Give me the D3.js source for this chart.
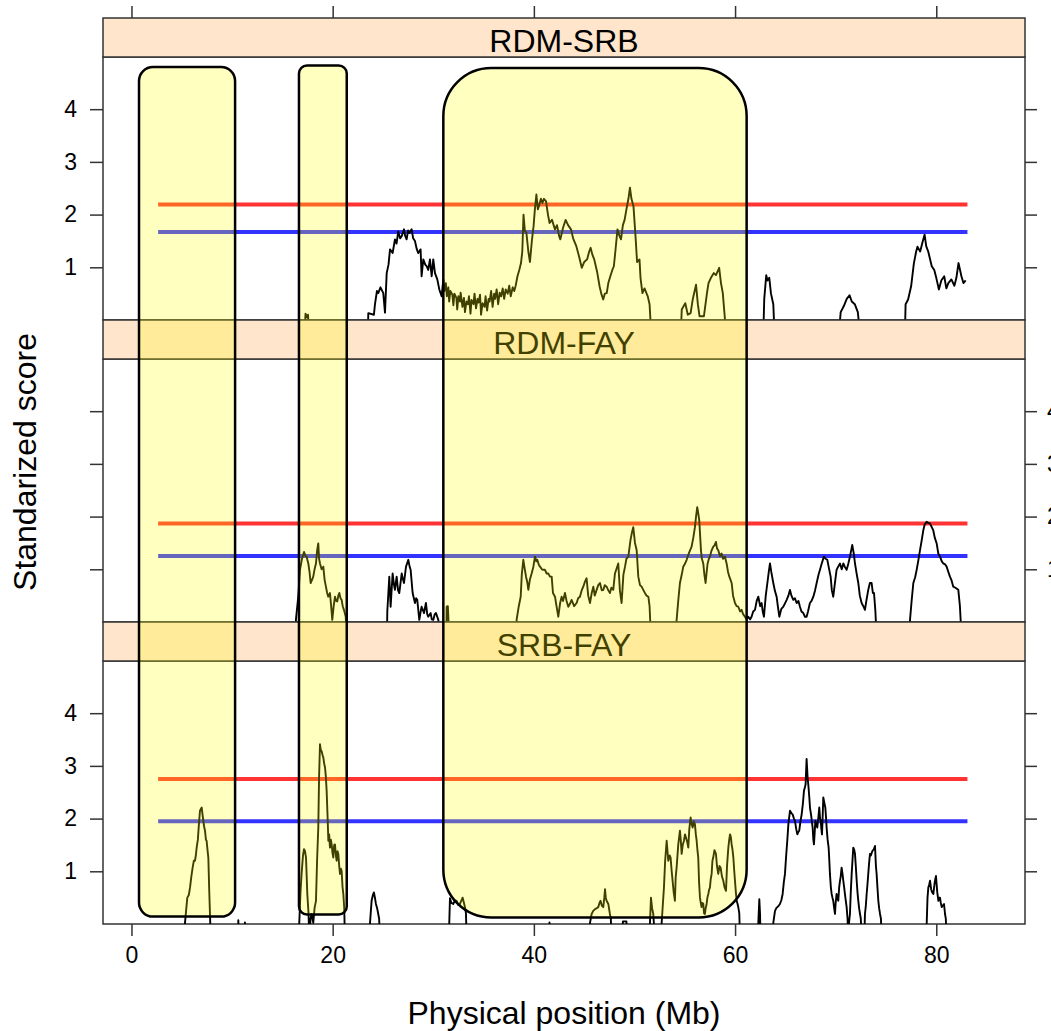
<!DOCTYPE html>
<html>
<head>
<meta charset="utf-8">
<script src="https://cdn.jsdelivr.net/npm/d3@7"></script>
<style>
  body { margin: 0; background: #fff; }
  svg { display: block; font-family: "Liberation Sans", Arial, sans-serif; }
</style>
</head>
<body>
<svg></svg>
<script>
var width = 1051;
var height = 1031;

// ---- data ----
var panelNames = ["RDM-SRB", "RDM-FAY", "SRB-FAY"];
var xTicks = [0, 20, 40, 60, 80];
var yTicks = [1, 2, 3, 4];
var redLevels = [2.19, 1.87, 2.75];
var blueLevels = [1.67, 1.25, 1.95];
var levelSpan = [2.65, 83.1];

// highlighted regions (Mb), top is a score in the top panel, bottom a score in the bottom panel
var regionStart = [0.75, 16.65, 31.0];
var regionEnd = [10.3, 21.4, 61.15];
var regionTop = [4.8, 4.83, 4.78];
var regionBottom = [0.14, 0.18, 0.125];

// [position Mb, standardized score]; negative = below the panel floor
var scanRdmSrb = [
  [17.2,-0.3],[17.3,0.12],[17.45,0.05],[17.55,0.1],[17.65,-0.3],
  [23.5,-0.3],[23.54,0.13],[24.1,0.1],[24.2,0.29],[24.4,0.55],[24.53,0.51],[24.75,0.62],[25.03,0.51],[25.2,0.14],[25.37,0.89],[25.55,1.05],[25.7,1.34],[25.96,1.27],[26.19,1.53],[26.35,1.45],[26.52,1.68],[26.7,1.55],[26.86,1.59],[27.09,1.72],[27.2,1.6],[27.35,1.53],[27.5,1.7],[27.62,1.65],[27.85,1.72],[28.0,1.55],[28.18,1.5],[28.35,1.35],[28.51,1.27],[28.74,1.34],[28.84,0.83],[29.01,1.15],[29.2,1.05],[29.34,1.02],[29.5,0.95],[29.67,1.15],[29.84,0.83],[30.0,1.15],[30.17,0.89],[30.4,0.77],[30.6,0.58],[30.83,0.45],
  [31.0,0.77],[31.1,0.55],[31.25,0.7],[31.35,0.45],[31.5,0.62],[31.58,0.35],[31.7,0.55],[31.9,0.48],[32.0,0.28],[32.1,0.5],[32.3,0.42],[32.38,0.2],[32.5,0.45],[32.65,0.35],[32.72,0.52],[32.9,0.25],[33.05,0.42],[33.15,0.15],[33.3,0.35],[33.45,0.3],[33.55,0.45],[33.7,0.12],[33.8,0.38],[34.0,0.3],[34.1,0.5],[34.25,0.22],[34.4,0.4],[34.5,0.33],[34.65,0.48],[34.75,0.1],[34.9,0.32],[35.1,0.25],[35.2,0.45],[35.35,0.18],[35.5,0.4],[35.6,0.35],[35.75,0.55],[35.9,0.25],[36.05,0.5],[36.15,0.4],[36.3,0.58],[36.45,0.3],[36.6,0.52],[36.75,0.45],[36.9,0.6],[37.05,0.4],[37.2,0.58],[37.4,0.5],[37.55,0.65],[37.7,0.45],[37.9,0.62],[38.05,0.55],[38.2,0.66],[38.37,0.83],[38.55,0.95],[38.72,1.08],[38.85,1.3],[38.97,2.0],[39.1,1.7],[39.26,1.65],[39.45,1.3],[39.61,1.1],[39.8,1.5],[39.97,1.78],[40.1,2.1],[40.25,2.38],[40.4,2.1],[40.5,2.16],[40.7,2.3],[40.85,2.22],[41.0,2.3],[41.21,2.25],[41.4,2.0],[41.56,1.84],[41.8,1.9],[42.1,1.72],[42.3,1.8],[42.5,1.6],[42.63,1.53],[42.9,1.75],[43.16,1.9],[43.4,1.8],[43.69,1.72],[43.9,1.55],[44.22,1.4],[44.5,1.2],[44.76,0.99],[45.0,1.1],[45.29,1.15],[45.5,1.3],[45.64,1.37],[45.8,1.25],[46.0,1.15],[46.3,0.9],[46.53,0.64],[46.7,0.5],[46.89,0.39],[47.05,0.5],[47.24,0.51],[47.4,0.7],[47.6,0.83],[47.8,0.95],[47.95,1.02],[48.1,1.3],[48.31,1.72],[48.5,1.6],[48.66,1.53],[48.85,1.8],[49.02,1.9],[49.2,2.1],[49.4,2.3],[49.55,2.51],[49.7,2.3],[49.9,2.16],[50.1,1.6],[50.26,1.1],[50.5,1.15],[50.6,0.8],[50.79,0.51],[51.0,0.6],[51.32,0.45],[51.5,0.3],[51.68,-0.3],
  [54.6,-0.3],[54.7,0.2],[55.05,0.32],[55.3,0.1],[55.58,0.13],[55.8,0.4],[56.12,0.67],[56.3,0.3],[56.47,0.07],[56.9,0.07],[57.2,0.5],[57.36,0.7],[57.6,0.8],[57.89,0.89],[58.1,0.85],[58.42,0.99],[58.6,0.7],[58.78,0.51],[59.13,-0.3],
  [62.8,-0.3],[62.9,0.4],[63.1,0.85],[63.22,0.75],[63.4,0.8],[63.57,0.5],[63.8,0.3],[63.93,-0.3],
  [70.3,-0.3],[70.5,0.15],[70.8,0.26],[71.1,0.4],[71.38,0.47],[71.6,0.35],[71.9,0.3],[72.2,0.15],[72.45,-0.3],
  [76.88,-0.3],[76.95,0.3],[77.2,0.39],[77.5,0.64],[77.77,1.07],[78.0,1.3],[78.13,1.39],[78.4,1.3],[78.6,1.45],[78.84,1.62],[79.0,1.4],[79.2,1.3],[79.55,1.02],[79.8,0.95],[80.0,0.8],[80.26,0.58],[80.5,0.75],[80.79,0.83],[81.0,0.6],[81.2,0.7],[81.5,0.77],[81.8,0.65],[82.0,0.8],[82.21,1.08],[82.5,0.83],[82.7,0.7],[82.92,0.75]
];

var scanRdmFay = [
  [16.3,-0.3],[16.35,0.05],[16.58,0.48],[16.75,0.99],[16.95,1.2],[17.15,1.33],[17.3,1.25],[17.41,1.24],[17.58,1.11],[17.7,0.95],[17.81,0.74],[17.95,0.8],[18.07,0.86],[18.2,1.0],[18.34,1.11],[18.45,1.35],[18.57,1.49],[18.65,1.2],[18.74,1.11],[18.9,1.0],[19.07,1.05],[19.2,0.8],[19.33,0.67],[19.45,0.55],[19.56,0.48],[19.73,0.55],[19.85,0.3],[19.96,0.04],[20.1,0.3],[20.23,0.48],[20.35,0.4],[20.46,0.39],[20.56,0.5],[20.66,0.55],[20.78,0.45],[20.89,0.42],[21.0,0.3],[21.12,0.23],[21.3,0.1],[21.39,-0.3],
  [25.4,-0.3],[25.43,0.2],[25.63,0.86],[25.76,0.29],[25.96,0.92],[26.1,0.7],[26.19,0.61],[26.36,0.86],[26.5,0.6],[26.62,0.55],[26.86,0.92],[27.0,0.8],[27.09,0.74],[27.29,1.05],[27.52,1.18],[27.65,1.05],[27.75,0.99],[27.95,0.55],[28.18,0.36],[28.3,0.45],[28.41,0.42],[28.61,0.04],[28.75,0.2],[28.84,0.29],[29.08,0.17],[29.27,0.36],[29.4,0.15],[29.5,0.1],[29.74,0.17],[29.85,0.05],[30.0,0.04],[30.15,0.15],[30.27,0.17],[30.5,0.04],[30.73,-0.3],
  [31.3,-0.3],[31.33,0.29],[31.45,0.3],[31.59,-0.3],
  [38.25,-0.3],[38.29,0.05],[38.5,0.3],[38.69,0.48],[38.8,0.9],[38.95,1.18],[39.1,1.0],[39.22,0.86],[39.35,0.75],[39.45,0.61],[39.6,0.8],[39.78,0.92],[39.95,1.05],[40.11,1.24],[40.25,1.15],[40.34,1.18],[40.5,1.08],[40.61,1.05],[40.8,1.0],[40.93,0.99],[41.1,0.99],[41.27,0.92],[41.43,0.92],[41.6,0.86],[41.77,0.86],[41.9,0.55],[42.1,0.48],[42.25,0.3],[42.43,0.1],[42.6,0.35],[42.76,0.48],[42.9,0.4],[43.09,0.55],[43.25,0.4],[43.42,0.29],[43.6,0.35],[43.75,0.42],[44.0,0.3],[44.25,0.36],[44.4,0.45],[44.58,0.48],[44.75,0.6],[44.91,0.67],[45.05,0.75],[45.24,0.83],[45.4,0.5],[45.58,0.36],[45.75,0.55],[45.91,0.67],[46.05,0.5],[46.24,0.61],[46.4,0.7],[46.57,0.74],[46.75,0.6],[46.9,0.61],[47.05,0.7],[47.23,0.67],[47.4,0.6],[47.56,0.55],[47.7,0.65],[47.89,0.61],[48.06,0.92],[48.2,1.0],[48.39,1.11],[48.55,0.6],[48.72,0.36],[48.9,0.9],[49.06,1.05],[49.2,1.2],[49.39,1.24],[49.6,1.55],[49.75,1.7],[49.88,1.8],[50.05,1.5],[50.22,1.36],[50.38,0.86],[50.55,0.7],[50.71,0.67],[50.9,0.6],[51.04,0.55],[51.2,0.5],[51.38,0.48],[51.5,0.3],[51.64,-0.3],
  [54.15,-0.3],[54.19,0.04],[54.35,0.4],[54.52,0.74],[54.7,0.9],[54.85,1.05],[55.0,1.1],[55.19,1.18],[55.4,1.3],[55.68,1.43],[55.85,1.6],[56.01,1.8],[56.12,2.0],[56.24,2.18],[56.35,2.05],[56.44,1.93],[56.61,1.36],[56.7,1.2],[56.84,1.11],[56.95,0.9],[57.07,0.74],[57.15,0.9],[57.27,1.11],[57.4,1.2],[57.5,1.24],[57.65,1.35],[57.83,1.43],[57.95,1.45],[58.1,1.52],[58.2,1.4],[58.33,1.36],[58.5,1.25],[58.66,1.3],[58.8,1.2],[58.99,1.24],[59.16,1.11],[59.3,0.95],[59.43,0.86],[59.55,0.8],[59.66,0.74],[59.8,0.5],[59.99,0.36],[60.15,0.3],[60.32,0.29],[60.5,0.2],[60.65,0.23],[60.8,0.15],[60.98,0.1],[61.15,0.05],[61.31,0.1],[61.5,0.05],[61.64,0.1],[61.8,0.2],[61.98,0.23],[62.15,0.4],[62.31,0.48],[62.5,0.3],[62.64,0.36],[62.75,0.2],[62.87,0.1],[63.05,0.5],[63.21,0.74],[63.35,0.95],[63.47,1.11],[63.6,0.95],[63.8,0.74],[63.95,0.6],[64.13,0.48],[64.25,0.3],[64.4,0.1],[64.6,0.25],[64.8,0.29],[64.95,0.35],[65.13,0.42],[65.3,0.5],[65.46,0.61],[65.6,0.5],[65.79,0.42],[65.95,0.45],[66.12,0.36],[66.3,0.4],[66.45,0.29],[66.6,0.2],[66.78,0.17],[66.95,0.1],[67.11,0.1],[67.25,0.2],[67.44,0.36],[67.6,0.4],[67.78,0.48],[67.95,0.6],[68.11,0.74],[68.3,0.9],[68.44,0.99],[68.6,1.1],[68.83,1.24],[69.0,1.2],[69.17,1.18],[69.3,1.05],[69.5,0.86],[69.62,0.6],[69.76,0.48],[69.9,0.7],[70.09,0.99],[70.25,1.05],[70.43,1.11],[70.6,1.0],[70.76,1.11],[70.9,1.05],[71.09,0.99],[71.25,1.1],[71.42,1.24],[71.65,1.46],[71.8,1.3],[71.92,1.11],[72.1,0.9],[72.25,0.74],[72.4,0.5],[72.58,0.36],[72.75,0.3],[72.91,0.23],[73.05,0.4],[73.24,0.61],[73.4,0.74],[73.57,0.74],[73.7,0.55],[73.81,0.55],[73.95,0.2],[74.07,-0.3],
  [77.35,-0.3],[77.39,0.04],[77.55,0.4],[77.72,0.74],[77.9,0.85],[78.05,0.99],[78.2,1.15],[78.38,1.36],[78.55,1.55],[78.71,1.74],[78.85,1.85],[79.04,1.9],[79.2,1.88],[79.37,1.87],[79.55,1.8],[79.7,1.74],[79.85,1.6],[80.04,1.49],[80.2,1.3],[80.37,1.24],[80.55,1.15],[80.7,1.11],[80.85,1.1],[81.03,1.05],[81.2,0.95],[81.36,0.86],[81.5,0.8],[81.69,0.67],[81.9,0.65],[82.19,0.61],[82.35,0.3],[82.52,-0.3]
];

var scanSrbFay = [
  [5.3,-0.3],[5.32,0.02],[5.55,0.5],[5.7,0.55],[5.82,0.69],[5.95,0.9],[6.08,1.07],[6.2,1.2],[6.31,1.2],[6.4,1.3],[6.48,1.45],[6.6,1.6],[6.68,1.83],[6.81,2.15],[6.98,2.21],[7.05,2.1],[7.14,1.96],[7.22,1.85],[7.31,1.77],[7.4,1.6],[7.47,1.58],[7.56,1.4],[7.64,1.26],[7.74,0.57],[7.82,0.1],[7.87,-0.3],
  [10.6,-0.3],[10.62,0.07],[10.7,-0.3],[11.2,-0.3],[11.28,0.03],[11.35,-0.3],
  [16.65,-0.3],[16.68,0.02],[16.8,0.6],[16.91,0.95],[17.05,1.3],[17.15,1.42],[17.25,1.38],[17.35,1.26],[17.48,0.57],[17.6,0.2],[17.68,-0.3],[17.8,0.1],[17.91,0.19],[18.0,0.1],[18.07,0.02],[18.2,0.3],[18.34,0.44],[18.45,1.2],[18.57,1.83],[18.65,2.8],[18.74,3.41],[18.82,3.3],[18.9,3.28],[19.0,3.2],[19.07,3.16],[19.15,3.05],[19.24,2.97],[19.32,2.8],[19.4,2.53],[19.5,2.0],[19.57,1.58],[19.65,1.7],[19.73,1.45],[19.82,1.6],[19.9,1.51],[19.98,1.35],[20.06,1.26],[20.15,1.5],[20.23,1.51],[20.32,1.3],[20.4,1.2],[20.48,1.38],[20.56,1.33],[20.65,1.1],[20.73,0.95],[20.81,1.05],[20.89,1.01],[20.98,0.7],[21.06,0.57],[21.15,0.3],[21.22,-0.3],
  [23.68,-0.3],[23.71,0.02],[23.87,0.44],[24.0,0.55],[24.1,0.6],[24.2,0.5],[24.3,0.38],[24.42,0.3],[24.53,0.19],[24.62,0.1],[24.7,-0.3],
  [31.55,-0.3],[31.59,0.02],[31.66,0.49],[31.8,0.4],[31.99,0.38],[32.15,0.45],[32.32,0.44],[32.5,0.36],[32.65,0.38],[32.8,0.45],[32.92,0.5],[33.05,0.4],[33.15,0.32],[33.25,0.2],[33.32,-0.3],
  [41.5,-0.3],[41.55,0.03],[41.65,-0.3],
  [45.55,-0.3],[45.58,0.02],[45.74,0.19],[45.9,0.25],[46.07,0.28],[46.25,0.3],[46.4,0.32],[46.52,0.4],[46.63,0.44],[46.75,0.35],[46.9,0.32],[47.0,0.5],[47.07,0.66],[47.15,0.5],[47.23,0.44],[47.4,0.38],[47.56,0.19],[47.65,0.1],[47.73,-0.3],
  [48.8,-0.3],[48.85,0.05],[49.2,0.05],[49.25,-0.3],
  [51.5,-0.3],[51.54,0.02],[51.64,0.5],[51.75,0.3],[51.87,0.19],[52.04,-0.3],
  [52.65,-0.3],[52.7,0.02],[52.93,0.69],[53.05,1.2],[53.2,1.58],[53.36,1.2],[53.5,1.3],[53.59,1.26],[53.7,1.0],[53.79,0.82],[53.9,0.6],[54.02,0.44],[54.1,0.9],[54.19,1.07],[54.35,1.5],[54.52,1.77],[54.6,1.6],[54.69,1.33],[54.8,1.5],[54.92,1.58],[55.02,1.7],[55.12,1.64],[55.25,1.55],[55.35,1.45],[55.45,1.8],[55.58,2.02],[55.68,1.9],[55.78,1.83],[55.9,1.95],[56.01,1.89],[56.1,1.7],[56.18,1.58],[56.26,1.4],[56.34,1.26],[56.42,0.8],[56.51,0.5],[56.59,0.4],[56.67,0.32],[56.75,0.4],[56.84,0.38],[56.92,0.2],[57.0,0.19],[57.08,0.3],[57.17,0.38],[57.25,0.5],[57.34,0.57],[57.42,0.65],[57.5,0.69],[57.58,0.85],[57.67,0.95],[57.75,1.2],[57.83,1.26],[57.95,1.4],[58.1,1.33],[58.2,1.1],[58.33,0.95],[58.45,1.1],[58.56,1.07],[58.7,0.9],[58.83,0.82],[58.95,0.7],[59.1,0.63],[59.2,1.1],[59.33,1.45],[59.42,1.6],[59.5,1.7],[59.58,1.65],[59.66,1.51],[59.75,1.4],[59.83,1.26],[59.92,1.0],[59.99,0.82],[60.08,0.6],[60.16,0.44],[60.25,0.38],[60.32,0.32],[60.42,0.2],[60.49,-0.3],
  [62.28,-0.3],[62.31,0.02],[62.41,0.47],[62.48,0.2],[62.54,-0.3],
  [63.77,-0.3],[63.8,0.02],[63.97,0.25],[64.1,0.3],[64.2,0.32],[64.35,0.35],[64.46,0.38],[64.6,0.45],[64.73,0.57],[64.85,0.8],[64.96,0.95],[65.08,1.3],[65.19,1.58],[65.3,1.9],[65.46,2.15],[65.6,2.1],[65.72,2.08],[65.85,2.0],[65.95,1.96],[66.08,1.8],[66.19,1.7],[66.3,1.75],[66.38,1.77],[66.5,1.95],[66.62,2.08],[66.75,2.3],[66.85,2.53],[66.95,2.6],[67.01,2.65],[67.11,3.13],[67.21,2.78],[67.3,2.6],[67.38,2.4],[67.45,2.2],[67.55,2.08],[67.63,1.95],[67.71,1.83],[67.78,1.6],[67.84,1.51],[67.92,1.75],[67.98,1.96],[68.08,1.9],[68.17,1.83],[68.27,2.0],[68.37,2.21],[68.45,2.0],[68.51,1.96],[68.58,1.8],[68.64,1.7],[68.7,2.0],[68.77,2.4],[68.87,2.3],[68.97,2.21],[69.05,2.0],[69.1,1.83],[69.2,1.6],[69.3,1.45],[69.37,1.2],[69.43,0.95],[69.52,0.7],[69.6,0.57],[69.68,0.5],[69.76,0.44],[69.85,0.3],[69.93,0.19],[70.0,0.4],[70.09,0.57],[70.18,0.5],[70.26,0.44],[70.35,0.7],[70.43,0.82],[70.5,0.9],[70.59,1.07],[70.68,0.95],[70.76,0.82],[70.84,0.7],[70.92,0.57],[71.0,0.45],[71.09,0.32],[71.18,0.1],[71.26,-0.3],[71.34,0.05],[71.42,0.19],[71.5,0.6],[71.59,0.95],[71.67,1.2],[71.75,1.45],[71.85,1.4],[71.92,1.33],[72.0,1.1],[72.09,0.82],[72.17,0.6],[72.25,0.44],[72.33,0.3],[72.42,0.19],[72.5,0.1],[72.58,-0.3],
  [72.85,-0.3],[72.91,0.19],[73.0,0.35],[73.08,0.57],[73.16,0.75],[73.24,0.95],[73.32,1.15],[73.41,1.33],[73.5,1.3],[73.58,1.35],[73.67,1.39],[73.8,1.42],[73.91,1.48],[74.0,1.1],[74.07,0.95],[74.15,0.7],[74.24,0.44],[74.32,0.3],[74.41,0.19],[74.5,0.1],[74.57,-0.3],
  [79.0,-0.3],[79.05,0.02],[79.13,0.5],[79.21,0.69],[79.3,0.75],[79.38,0.82],[79.5,0.65],[79.6,0.6],[79.71,0.57],[79.85,0.8],[79.97,0.91],[80.1,0.6],[80.21,0.44],[80.3,0.5],[80.37,0.5],[80.45,0.4],[80.54,0.32],[80.65,0.35],[80.77,0.38],[80.87,0.19],[80.95,0.1],[81.04,-0.3]
];

var scans = [scanRdmSrb, scanRdmFay, scanSrbFay];

// ---- layout ----
var marginLeft = 103, marginRight = 1025, marginTop = 18;
var stripH = 39, plotH = 263;
var frame = "#333";

var svg = d3.select("svg")
            .attr("width", width)
            .attr("height", height);

var x = d3.scaleLinear().domain([-2.83, 88.82]).range([marginLeft, marginRight]);

var panels = panelNames.map(function(name, i) {
  var py = marginTop + i * (stripH + plotH);
  return {
    name: name,
    stripY: py,
    plotY: py + stripH,
    y: d3.scaleLinear().domain([0, 4.99]).range([py + stripH + plotH, py + stripH]),
    scan: scans[i],
    red: redLevels[i],
    blue: blueLevels[i],
    index: i
  };
});

var defs = svg.append("defs");
panels.forEach(function(p) {
  defs.append("clipPath").attr("id", "clip" + p.index)
    .append("rect")
    .attr("x", marginLeft).attr("y", p.plotY)
    .attr("width", marginRight - marginLeft).attr("height", plotH);
});

var line = d3.line();
var intFormat = d3.format("d");

function styleAxis(g, fontSize) {
  g.select(".domain").remove();
  g.selectAll(".tick line").attr("stroke", frame).attr("stroke-width", 1.5);
  g.selectAll(".tick text").attr("fill", "#000")
    .style("font-size", fontSize + "px")
    .style("font-family", "'Liberation Sans', Arial, sans-serif");
}

panels.forEach(function(p) {
  var g = svg.append("g").attr("class", "panel");

  // plot frame
  g.append("rect")
    .attr("x", marginLeft).attr("y", p.plotY)
    .attr("width", marginRight - marginLeft).attr("height", plotH)
    .attr("fill", "#fff").attr("stroke", frame).attr("stroke-width", 1.5);

  // strip
  g.append("rect")
    .attr("x", marginLeft).attr("y", p.stripY)
    .attr("width", marginRight - marginLeft).attr("height", stripH)
    .attr("fill", "#ffe5cc").attr("stroke", frame).attr("stroke-width", 1.5);
  g.append("text")
    .attr("x", (marginLeft + marginRight) / 2).attr("y", p.stripY + 34)
    .attr("text-anchor", "middle")
    .style("font-size", "32px")
    .text(p.name);

  // y axes: labels alternate left / right like lattice
  var labelLeft = p.index !== 1;
  var la = d3.axisLeft(p.y).tickValues(yTicks).tickSize(13).tickPadding(13)
             .tickFormat(labelLeft ? intFormat : "");
  g.append("g").attr("transform", "translate(" + marginLeft + ",0)").call(la).call(styleAxis, 23);

  var ra = d3.axisRight(p.y).tickValues(yTicks).tickSize(12).tickPadding(10)
             .tickFormat(labelLeft ? "" : intFormat);
  g.append("g").attr("transform", "translate(" + marginRight + ",0)").call(ra).call(styleAxis, 23);

  // threshold lines
  [[p.red, "#ff0000"], [p.blue, "#0000ff"]].forEach(function(t) {
    g.append("line")
      .attr("x1", x(levelSpan[0])).attr("x2", x(levelSpan[1]))
      .attr("y1", p.y(t[0])).attr("y2", p.y(t[0]))
      .attr("stroke", t[1]).attr("stroke-width", 4).attr("stroke-opacity", 0.8);
  });

  // scan curve
  line.x(function(d) { return x(d[0]); })
      .y(function(d) { return p.y(d[1]); });
  g.append("path")
    .attr("clip-path", "url(#clip" + p.index + ")")
    .attr("d", line(p.scan))
    .attr("fill", "none")
    .attr("stroke", "#000")
    .attr("stroke-width", 1.9)
    .attr("stroke-linejoin", "round");
});

// x axes
var bottomY = panels[2].plotY + plotH;
svg.append("g").attr("transform", "translate(0," + bottomY + ")")
  .call(d3.axisBottom(x).tickValues(xTicks).tickSize(12).tickPadding(11))
  .call(styleAxis, 23);
svg.append("g").attr("transform", "translate(0," + marginTop + ")")
  .call(d3.axisTop(x).tickValues(xTicks).tickSize(12).tickFormat(""))
  .call(styleAxis, 23);

// highlighted regions, laid over all panels
var boxRadius = [14, 8, 48];
var yTop = panels[0].y, yBottom = panels[2].y;
svg.append("g").selectAll("rect")
  .data(regionStart.map(function(s, i) {
    return { start: s, end: regionEnd[i], top: regionTop[i], bottom: regionBottom[i], r: boxRadius[i] };
  }))
  .enter().append("rect")
  .attr("x", function(d) { return x(d.start); })
  .attr("width", function(d) { return x(d.end) - x(d.start); })
  .attr("y", function(d) { return yTop(d.top); })
  .attr("height", function(d) { return yBottom(d.bottom) - yTop(d.top); })
  .attr("rx", function(d) { return d.r; })
  .attr("ry", function(d) { return d.r; })
  .attr("fill", "#ffff00").attr("fill-opacity", 0.25)
  .attr("stroke", "#000").attr("stroke-width", 2.5);

// axis titles
svg.append("text")
  .attr("x", (marginLeft + marginRight) / 2).attr("y", 1024)
  .attr("text-anchor", "middle")
  .style("font-size", "32px")
  .text("Physical position (Mb)");
svg.append("text")
  .attr("transform", "translate(36," + (marginTop + 3 * (stripH + plotH)) / 2 + ") rotate(-90)")
  .attr("x", 0).attr("y", 0)
  .attr("text-anchor", "middle")
  .style("font-size", "32px")
  .text("Standarized score");
</script>
</body>
</html>
